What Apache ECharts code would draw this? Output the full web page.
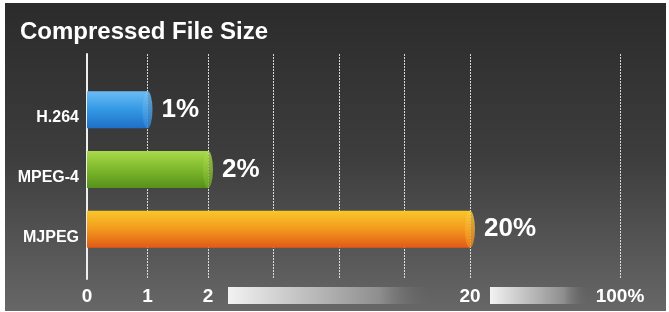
<!DOCTYPE html>
<html>
<head>
<meta charset="utf-8">
<script src="https://cdn.jsdelivr.net/npm/echarts@6/dist/echarts.min.js"></script>
<style>
  html, body { margin: 0; padding: 0; background: #fff; }
  #chart { position: absolute; left: 5px; top: 3px; width: 661px; height: 308px; }
</style>
</head>
<body>
<div id="chart"></div>
<script>
const categories = ['H.264', 'MPEG-4', 'MJPEG'];
const sizes = [1, 2, 20];
const tickValues = [0, 1, 2, 20, 100];
const tickLabels = ['0', '1', '2', '20', '100%'];
// broken scale: where each tick value lands, in axis units
const tickSlots = [0, 1, 2, 6.33, 8.81];

const barColors = [
  ['#6bbcf4', '#3398e4', '#1f6fc6'],
  ['#aad94a', '#7db82c', '#56901a'],
  ['#f9c82a', '#f2991e', '#e25a16']
];
const capColors = [
  ['#74c2f6', '#2b86d8'],
  ['#b2dc50', '#6aa622'],
  ['#fbcf3a', '#ee861c']
];

function toSlot(v) {
  for (let i = 1; i < tickValues.length; i++) {
    if (v <= tickValues[i]) {
      const t = (v - tickValues[i - 1]) / (tickValues[i] - tickValues[i - 1]);
      return tickSlots[i - 1] + t * (tickSlots[i] - tickSlots[i - 1]);
    }
  }
  return tickSlots[tickSlots.length - 1];
}

// grid lines on every tick, plus the 2..20 stretch split in four
const gridSlots = [1, 2, 6.5, 11, 15.5, 20, 100].map(toSlot);
const slotMax = tickSlots[tickSlots.length - 1];

const vGrad = (stops) => new echarts.graphic.LinearGradient(0, 0, 0, 1,
  stops.map((c, i) => ({ offset: i / (stops.length - 1), color: c })));

const chart = echarts.init(document.getElementById('chart'));

chart.setOption({
  backgroundColor: vGrad(['#2b2b2b', '#3d3d3d', '#676767']),
  textStyle: { fontFamily: 'Liberation Sans, Arial, sans-serif' },
  title: {
    text: 'Compressed File Size',
    left: 10,
    top: 12,
    textStyle: { color: '#fff', fontSize: 24, fontWeight: 'bold' }
  },
  grid: [
    { left: 82, right: 46, top: 51, bottom: 32 },
    { left: 82, right: 46, top: 77, height: 179 }
  ],
  xAxis: [
    {
      gridIndex: 0,
      type: 'value',
      min: 0,
      max: slotMax,
      axisLine: { show: false },
      axisTick: { show: false, customValues: gridSlots },
      splitLine: {
        show: true,
        lineStyle: { color: 'rgba(255,255,255,0.8)', type: [2, 1], width: 1 }
      },
      axisLabel: {
        customValues: tickSlots,
        formatter: (v) => tickLabels[tickSlots.indexOf(v)],
        color: '#fff',
        fontWeight: 'bold',
        fontSize: 19,
        margin: 8
      }
    },
    { gridIndex: 1, type: 'value', min: 0, max: slotMax, show: false }
  ],
  yAxis: [
    {
      gridIndex: 0,
      type: 'value',
      min: 0,
      max: 1,
      axisLine: { show: true, lineStyle: { color: '#eeeeee', width: 2 } },
      axisTick: { show: false },
      axisLabel: { show: false },
      splitLine: { show: false }
    },
    {
      gridIndex: 1,
      type: 'category',
      data: categories,
      inverse: true,
      axisLine: { show: false },
      axisTick: { show: false },
      axisLabel: {
        color: '#fff',
        fontWeight: 'bold',
        fontSize: 16,
        margin: 8,
        verticalAlign: 'top'
      }
    }
  ],
  series: [
    {
      type: 'bar',
      xAxisIndex: 1,
      yAxisIndex: 1,
      barWidth: 37,
      data: sizes.map((v, i) => ({
        value: toSlot(v),
        itemStyle: { color: vGrad(barColors[i]) }
      })),
      label: {
        show: true,
        position: 'right',
        distance: 14,
        formatter: (p) => sizes[p.dataIndex] + '%',
        color: '#fff',
        fontSize: 26,
        fontWeight: 'bold'
      }
    },
    {
      type: 'scatter',
      xAxisIndex: 1,
      yAxisIndex: 1,
      symbol: 'circle',
      symbolSize: [10, 37],
      z: 3,
      silent: true,
      data: sizes.map((v, i) => ({
        value: [toSlot(v), i],
        itemStyle: { color: vGrad(capColors[i]) }
      }))
    }
  ],
  graphic: [
    {
      type: 'rect',
      shape: { x: 223, y: 284, width: 202, height: 17 },
      style: {
        fill: new echarts.graphic.LinearGradient(0, 0, 1, 0, [
          { offset: 0, color: '#f2f2f2' },
          { offset: 0.75, color: '#8e8e8e' },
          { offset: 1, color: 'rgba(102,102,102,0)' }
        ])
      }
    },
    {
      type: 'rect',
      shape: { x: 485, y: 284, width: 98, height: 17 },
      style: {
        fill: new echarts.graphic.LinearGradient(0, 0, 1, 0, [
          { offset: 0, color: '#f2f2f2' },
          { offset: 0.75, color: '#8e8e8e' },
          { offset: 1, color: 'rgba(102,102,102,0)' }
        ])
      }
    }
  ]
});
</script>
</body>
</html>
